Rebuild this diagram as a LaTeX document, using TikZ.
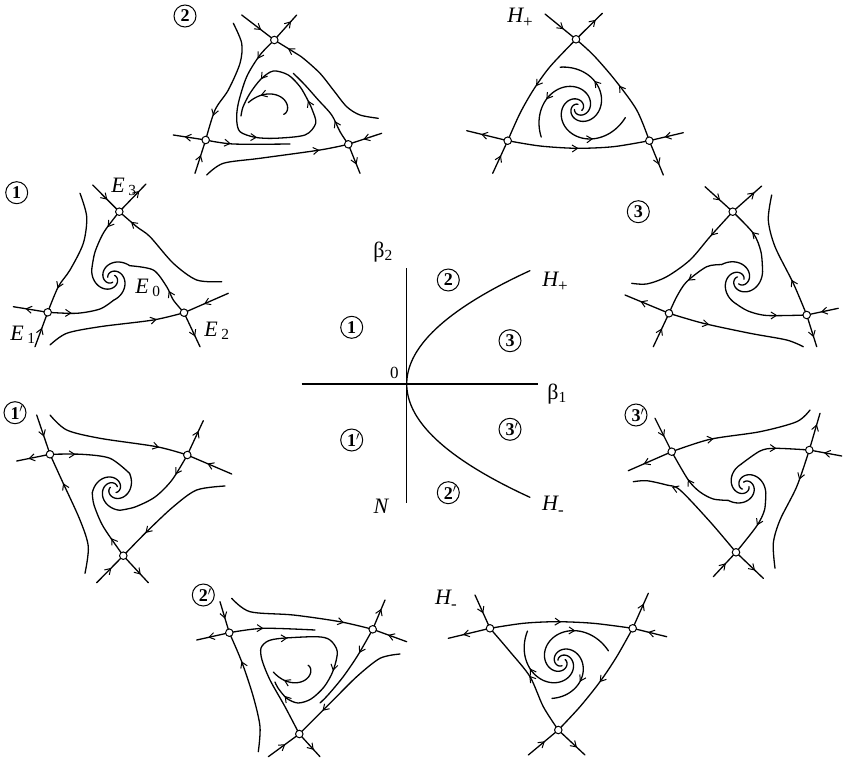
\documentclass[tikz,border=0pt]{standalone}
\usepackage{fontspec}
\setmainfont{Liberation Serif}
\usetikzlibrary{arrows.meta,decorations.markings}
\tikzset{
  flow/.style={line width=1.3pt,line cap=round,line join=round},
  ar/.style={postaction={decorate,decoration={markings,
      mark=at position #1 with {\arrow{Straight Barb[length=5.5pt,width=7pt,line width=1pt]}}}}},
  saddle/.style={circle,draw,fill=white,line width=1pt,inner sep=0pt,minimum size=7.5pt},
  num/.style={circle,draw,line width=1pt,inner sep=0pt,minimum size=22pt,
      font=\fontsize{18}{18}\selectfont\bfseries},
  lab/.style={font=\fontsize{22}{22}\selectfont\itshape},
  axis/.style={line width=1.1pt},
}
% smooth trajectory, arrow marks set on the polygon through the same points
\newcommand{\traj}[2][]{\draw[flow] plot[smooth] coordinates {#2};
  \path[flow,#1] plot coordinates {#2};}
% log spiral round a named centre: [opts]{centre}{angle from}{angle to}{radius from}{radius to}
\newcommand{\spir}[6][]{\draw[flow,shift={(#2)},#1] plot[domain=0:1,samples=110]
  ({#3+(#4-(#3))*\x}:{#5*exp(ln(#6/#5)*\x)});}
\newcommand{\pr}[1]{#1\rlap{$'$}}
\newcommand{\hsub}[1]{\raisebox{-0.45ex}{\upshape\fontsize{17}{17}\selectfont #1}}
\begin{document}
\begin{tikzpicture}[x=1pt,y=-1pt]
\useasboundingbox (0,0) rectangle (843,762);

% bifurcation diagram
\coordinate (O) at (406.7,384);
\coordinate (ax1) at (301.7,384); \coordinate (ax2) at (538.3,384);
\coordinate (ay1) at (406.7,268.3); \coordinate (ay2) at (406.7,503.3);
\draw[axis] (ax1) -- (ax2);
\draw[axis] (ay1) -- (ay2);
\draw[flow] plot[domain=-113.3:113.3,samples=60,smooth] ({406.7+0.0096*\x*\x},{384+\x});
\node[font=\fontsize{22}{22}\selectfont] (b2) at (383,252) {β\textsubscript{2}};
\node[font=\fontsize{22}{22}\selectfont] (b1) at (557,394) {β\textsubscript{1}};
\node[font=\fontsize{17}{17}\selectfont] (zero) at (394.3,373) {0};
\node[lab] (N) at (381,506) {N};
\node[lab] (Hp) at (555,282) {H\hsub{+}};
\node[lab] (Hm) at (553,506) {H\hsub{-}};
\node[num] (c2) at (448.3,280) {2};
\node[num] (c1) at (351.7,327.3) {1};
\node[num] (c3) at (510,340.7) {3};
\node[num] (c1p) at (351.7,440) {\pr{1}};
\node[num] (c3p) at (510,429.3) {\pr{3}};
\node[num] (c2p) at (448.3,492.7) {\pr{2}};

% portrait 1
\coordinate (p1a) at (119.3,211.7); \coordinate (p1b) at (47.7,312.3);
\coordinate (p1c) at (184,312.7); \coordinate (p1o) at (111.7,278.3);
\node[num] (n1) at (16.7,192.7) {1};
\node[lab] (e3) at (124,187) {E\,\textsubscript{\upshape 3}};
\node[lab] (e0) at (148,288) {E\,\textsubscript{\upshape 0}};
\node[lab] (e1) at (23,335) {E\,\textsubscript{\upshape 1}};
\node[lab] (e2) at (217,331) {E\,\textsubscript{\upshape 2}};
\draw[flow,ar=0.55] (92.7,185) -- (p1a);
\draw[flow,ar=0.75] (p1a) -- (146,184);
\traj[ar=0.88]{(221.7,281.7) (196.7,280) (173.3,263.3) (150,236.7) (136.7,226.7) (p1a)}
\traj[ar=0.3]{(p1a) (104,232) (95,252) (91.8,269)}
\spir{p1o}{205}{-45}{22}{4}
\traj[ar=0.35]{(p1b) (76.7,313.3) (100,309) (113.6,300.2)}
\spir{p1o}{85}{-165}{22}{4}
\traj[ar=0.35]{(p1c) (173.3,300) (166.7,286.7) (153.3,270) (129.7,265.7)}
\spir{p1o}{-35}{-285}{22}{4}
\traj[ar=0.8]{(80,193.3) (86.7,216.7) (83.3,243.3) (70,270) (58.3,286.7) (p1b)}
\draw[flow,ar=0.65] (p1b) -- (13.3,306.7);
\draw[flow,ar=0.55] (35,346.7) -- (p1b);
\traj[ar=0.8]{(50,345) (66.7,333.3) (100,326.7) (153.3,320) (p1c)}
\draw[flow,ar=0.55] (228.3,293.3) -- (p1c);
\draw[flow,ar=0.7] (p1c) -- (200,346.7);

% portrait 2
\coordinate (p2a) at (274.3,40); \coordinate (p2b) at (205.7,140);
\coordinate (p2c) at (348.3,144.3); \coordinate (p2o) at (281,112);
\node[num] (n2) at (185,16) {2};
\draw[flow,ar=0.6] (241.7,15) -- (p2a);
\draw[flow,ar=0.75] (p2a) -- (296.7,15);
\traj[ar=0.88]{(378.3,118.3) (360,115) (346.7,106.7) (333.3,90) (320,73.3) (303.3,58.3) (293.3,51.7) (p2a)}
\traj[ar=0.08,ar=0.385,ar=0.665,ar=0.865]{(p2a) (260,55) (246.7,76.7) (238.3,103.3) (236.7,120) (240,131.7) (255,137.3) (275,138.3) (305,135) (315.7,123.3) (312.3,110) (307.7,100) (300,86.7) (288.3,75) (273.3,71) (261,79) (250,93.3) (243,107) (241,116)}
\traj[ar=0.8]{(233.3,23.3) (241.7,43.3) (240,63.3) (228.3,90) (215,110) (p2b)}
\draw[flow,ar=0.55] (195,173.3) -- (p2b);
\draw[flow,ar=0.65] (p2b) -- (173.3,135);
\traj[ar=0.3]{(p2b) (233.3,144) (290,144)}
\traj[ar=0.8]{(206.7,175) (223.3,163.3) (260,158.3) (320,150) (p2c)}
\draw[flow,ar=0.55] (381.7,133.3) -- (p2c);
\draw[flow,ar=0.7] (p2c) -- (360,173.3);
\traj[ar=0.3]{(p2c) (340,131.7) (331.7,115) (318.3,100) (305,85) (293.3,73.3)}
\spir[ar=0.75]{p2o}{400}{196}{3.5}{34}

% portrait H+
\coordinate (hpa) at (576,39.3); \coordinate (hpb) at (507.7,140.7);
\coordinate (hpc) at (649.3,140.7); \coordinate (hpo) at (578.3,108.3);
\node[lab] (nhp) at (520,18) {H\hsub{+}};
\draw[flow,ar=0.6] (545,14) -- (hpa);
\draw[flow,ar=0.75] (hpa) -- (602.3,13.3);
\traj[ar=0.5]{(hpa) (550,66.7) (533.3,90) (520,113.3) (hpb)}
\traj[ar=0.5]{(hpb) (540,146) (576.7,148.3) (613.3,146.7) (hpc)}
\traj[ar=0.5]{(hpc) (636.7,110) (615,80) (593.3,55) (hpa)}
\draw[flow,ar=0.65] (hpb) -- (466.7,130.7);
\draw[flow,ar=0.55] (492.7,173.3) -- (hpb);
\draw[flow,ar=0.55] (683.3,132.7) -- (hpc);
\draw[flow,ar=0.7] (hpc) -- (663.3,175);
\spir[ar=0.68]{hpo}{626}{246}{4}{45}
\spir[ar=0.68]{hpo}{522}{142}{4}{47}
\spir[ar=0.68]{hpo}{391}{11}{4}{48}

% portrait 3
\coordinate (p3a) at (732.7,211.7); \coordinate (p3b) at (669,313.3);
\coordinate (p3c) at (806.7,315); \coordinate (p3o) at (740,280);
\node[num] (n3) at (638.3,211.7) {3};
\spir{p3o}{230}{-20}{4}{24}
\traj[ar=0.6]{(762.6,271.8) (761,252) (753.3,233.3) (p3a)}
\spir{p3o}{350}{100}{4}{24}
\traj[ar=0.6]{(735.8,303.6) (748,311) (767,315.5) (p3c)}
\spir{p3o}{470}{220}{4}{24}
\traj[ar=0.5]{(721.6,264.6) (706.7,266.7) (686.7,281.7) (676.7,296.7) (p3b)}
\draw[flow,ar=0.55] (705,186.7) -- (p3a);
\draw[flow,ar=0.75] (p3a) -- (761.7,186);
\traj[ar=0.25]{(p3a) (710,236.7) (690,260) (666.7,276.7) (646.7,284) (631.7,283.3)}
\draw[flow,ar=0.65] (p3b) -- (625,295);
\draw[flow,ar=0.55] (653.3,346.7) -- (p3b);
\traj[ar=0.3]{(p3b) (703.3,323.3) (750,333.3) (786.7,340) (803.3,346.7)}
\traj[ar=0.3]{(p3c) (793.3,283.3) (775,246.7) (768.3,220) (771.7,195)}
\draw[flow,ar=0.55] (838.3,308.3) -- (p3c);
\draw[flow,ar=0.7] (p3c) -- (816.7,346.7);

% portrait 1'
\coordinate (q1a) at (50,454.3); \coordinate (q1b) at (187.3,455);
\coordinate (q1c) at (123.3,555.7); \coordinate (q1o) at (114,489);
\node[num] (m1) at (15,412.7) {\pr{1}};
\traj[ar=0.3]{(q1a) (81.7,454.3) (110,458.3) (129.6,473.4)}
\spir{q1o}{-45}{205}{22}{4}
\traj[ar=0.25]{(q1b) (172,480) (155,497) (135,507) (119.7,510.3)}
\spir{q1o}{75}{325}{22}{4}
\traj[ar=0.3]{(q1c) (103.3,526.7) (94,505) (92.3,492.8)}
\spir{q1o}{170}{420}{22}{4}
\draw[flow,ar=0.55] (36.7,415) -- (q1a);
\draw[flow,ar=0.65] (q1a) -- (16.7,461);
\traj[ar=0.75]{(85,573.3) (88.3,546.7) (80,520) (61.7,480) (q1a)}
\traj[ar=0.8]{(50,415) (66.7,430) (100,438.3) (156.7,446.7) (q1b)}
\draw[flow,ar=0.7] (q1b) -- (203.3,420.7);
\draw[flow,ar=0.55] (231.7,474) -- (q1b);
\draw[flow,ar=0.55] (96.7,582.7) -- (q1c);
\draw[flow,ar=0.7] (q1c) -- (148.3,582.7);
\traj[ar=0.75]{(225,486) (196.7,490) (173.3,506.7) (146.7,531.7) (q1c)}

% portrait 3'
\coordinate (q3a) at (671.7,451.7); \coordinate (q3b) at (809.3,450);
\coordinate (q3c) at (736,552.3); \coordinate (q3o) at (745,486);
\node[num] (m3) at (636,415) {\pr{3}};
\spir{q3o}{-111}{139}{4}{22}
\traj[ar=0.6]{(728.4,500.4) (713.3,499) (700,492) (688.3,480) (q3a)}
\spir{q3o}{9}{259}{4}{22}
\traj[ar=0.55]{(740.8,464.4) (760,451) (775,448.3) (q3b)}
\spir{q3o}{-231}{19}{4}{22}
\traj[ar=0.5]{(765.8,493.2) (764.5,510) (756.7,526) (q3c)}
\draw[flow,ar=0.55] (655,418.3) -- (q3a);
\draw[flow,ar=0.65] (q3a) -- (628.3,470.7);
\traj[ar=0.3]{(q3a) (710,439.3) (760,431.7) (796.7,421.7) (810,410)}
\draw[flow,ar=0.7] (q3b) -- (820,413.3);
\draw[flow,ar=0.55] (841.7,456) -- (q3b);
\traj[ar=0.25]{(q3b) (796.7,486.7) (780,520) (773.3,543.3) (775,568.3)}
\draw[flow,ar=0.55] (713.3,576.7) -- (q3c);
\draw[flow,ar=0.7] (q3c) -- (763.3,578.3);
\traj[ar=0.7]{(q3c) (710,521.7) (680,490) (666.7,485) (646.7,480.7) (633.3,481.7)}

% portrait 2'
\coordinate (q2a) at (229.3,632.7); \coordinate (q2b) at (372.7,629.3);
\coordinate (q2c) at (299.3,734); \coordinate (q2o) at (305,667);
\node[num] (m2) at (203.3,595) {\pr{2}};
\draw[flow,ar=0.55] (220,601.7) -- (q2a);
\draw[flow,ar=0.65] (q2a) -- (196.7,640);
\traj[ar=0.4]{(q2a) (263.3,628.3) (315,630)}
\traj[ar=0.75]{(258.3,751.7) (260,726.7) (253.3,696.7) (241.7,661.7) (q2a)}
\traj[ar=0.44,ar=0.71,ar=0.94]{(q2c) (285,706.7) (270,680) (262,660) (261,648) (268,641) (281.7,638.3) (316.7,636.7) (330,640) (337.3,651.7) (333,671) (324,687) (311,699) (298,703) (286.7,698.3) (278,688) (275,682)}
\draw[flow,ar=0.55] (268.3,756.7) -- (q2c);
\draw[flow,ar=0.7] (q2c) -- (320,756.7);
\traj[ar=0.75]{(400,654) (380,658.3) (356.7,676.7) (333.3,700) (323.3,710) (q2c)}
\traj[ar=0.8]{(231.7,598.3) (250,611.7) (293.3,615) (340,621.7) (q2b)}
\draw[flow,ar=0.7] (q2b) -- (385,600);
\draw[flow,ar=0.55] (406.7,641.7) -- (q2b);
\traj[ar=0.3]{(q2b) (358,655) (343,677) (328,695) (320,703)}
\spir[ar=0.75]{q2o}{-29}{171}{3.5}{32}

% portrait H-
\coordinate (hma) at (490,628.3); \coordinate (hmb) at (632.7,628.3);
\coordinate (hmc) at (558.3,730); \coordinate (hmo) at (561.7,661.7);
\node[lab] (nhm) at (446,600) {H\hsub{-}};
\traj[ar=0.5]{(hma) (523.3,623.3) (556.7,621.7) (593.3,623.3) (hmb)}
\traj[ar=0.5]{(hmb) (616.7,656.7) (600,681.7) (580,706.7) (hmc)}
\traj[ar=0.5]{(hmc) (543.3,706.7) (530,676.7) (510,651.7) (hma)}
\draw[flow,ar=0.55] (475,595) -- (hma);
\draw[flow,ar=0.65] (hma) -- (448.3,638.3);
\draw[flow,ar=0.55] (666.7,636.7) -- (hmb);
\draw[flow,ar=0.7] (hmb) -- (648.3,593.3);
\draw[flow,ar=0.55] (528.3,755) -- (hmc);
\draw[flow,ar=0.7] (hmc) -- (585,755);
\spir[ar=0.68]{hmo}{-158}{222}{4}{46}
\spir[ar=0.68]{hmo}{-33}{347}{4}{48}
\spir[ar=0.68]{hmo}{-275}{105}{4}{38}

% saddles
\foreach \s in {p1a,p1b,p1c,p2a,p2b,p2c,p3a,p3b,p3c,q1a,q1b,q1c,q2a,q2b,q2c,q3a,q3b,q3c,hpa,hpb,hpc,hma,hmb,hmc}
  \node[saddle] (o\s) at (\s) {};
\end{tikzpicture}
\end{document}
